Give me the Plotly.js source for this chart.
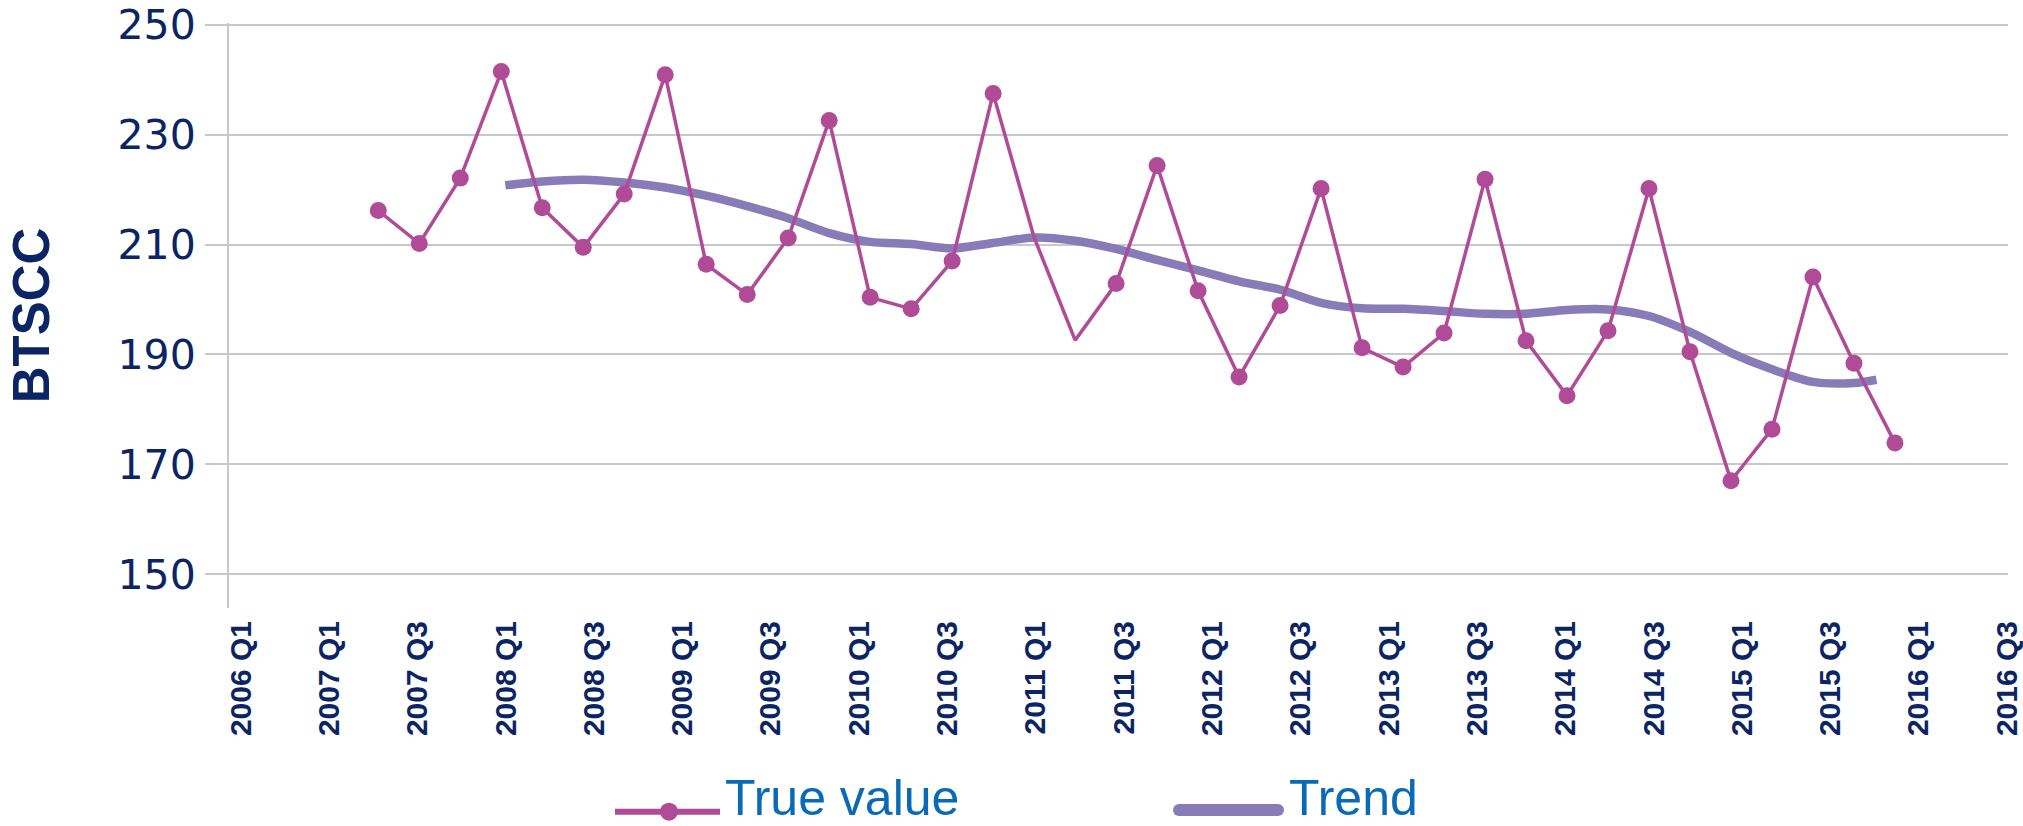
<!DOCTYPE html>
<html>
<head>
<meta charset="utf-8">
<script src="https://cdn.plot.ly/plotly-3.0.1.min.js"></script>
<style>
  html, body { margin: 0; padding: 0; background: #ffffff; }
  #chart { width: 2023px; height: 826px; }
</style>
</head>
<body>
<div id="chart"></div>
<script>
// ---------------- data ----------------
const tickLabels = ['2006 Q1','2007 Q1','2007 Q3','2008 Q1','2008 Q3','2009 Q1','2009 Q3',
  '2010 Q1','2010 Q3','2011 Q1','2011 Q3','2012 Q1','2012 Q3','2013 Q1','2013 Q3',
  '2014 Q1','2014 Q3','2015 Q1','2015 Q3','2016 Q1','2016 Q3'];

const quarters = ['2007 Q2','2007 Q3','2007 Q4',
  '2008 Q1','2008 Q2','2008 Q3','2008 Q4',
  '2009 Q1','2009 Q2','2009 Q3','2009 Q4',
  '2010 Q1','2010 Q2','2010 Q3','2010 Q4',
  '2011 Q1','2011 Q2','2011 Q3','2011 Q4',
  '2012 Q1','2012 Q2','2012 Q3','2012 Q4',
  '2013 Q1','2013 Q2','2013 Q3','2013 Q4',
  '2014 Q1','2014 Q2','2014 Q3','2014 Q4',
  '2015 Q1','2015 Q2','2015 Q3','2015 Q4',
  '2016 Q1','2016 Q2','2016 Q3'];

const trueValues = [216.2, 210.2, 222.1, 241.5, 216.7, 209.5, 219.2, 240.9, 206.4, 200.9,
  211.2, 232.6, 200.4, 198.3, 207.0, 237.5, 211.3, 192.6, 202.9, 224.4,
  201.6, 185.9, 198.9, 220.2, 191.2, 187.7, 193.9, 221.9, 192.5, 182.5,
  194.3, 220.2, 190.5, 167.0, 176.4, 204.1, 188.4, 173.9];

// trend positions in quarter steps from the first quarter (2007 Q2 = 0)
const trendPos = [3.1, 4, 5, 6, 7, 8, 9, 10, 11, 12, 13, 14, 15, 16, 17, 18, 19, 20,
  21, 22, 23, 24, 25, 26, 27, 28, 29, 30, 31, 32, 33, 34, 35, 36, 36.55];
const trendValues = [220.8, 221.5, 221.8, 221.3, 220.4, 218.9, 217.0, 214.8, 212.1, 210.5,
  210.1, 209.3, 210.3, 211.3, 210.7, 209.2, 207.2, 205.3, 203.3, 201.8,
  199.4, 198.4, 198.3, 197.9, 197.4, 197.4, 198.1, 198.2, 197.0, 194.1,
  190.3, 187.3, 185.0, 184.8, 185.4];

const yTicks = [150, 170, 190, 210, 230, 250];

// ---------------- style ----------------
const W = 2023, H = 826;
const M = { l: 229, r: 15, t: 23, b: 218 };
const plotW = W - M.l - M.r, plotH = H - M.t - M.b;
const COL_TRUE = '#b04b97';
const COL_TREND = '#877cb8';
const COL_GRID = '#c8c8c8';
const COL_NAVY = '#0b2564';
const COL_LEG = '#0a6ab6';
const noMarkerIdx = [16, 17];

// x axis in quarter steps; the printed labels of the source sit on their own,
// slightly wider spacing (label 0 starts at -3.35 steps, one label every 2.154 steps)
const X_RANGE = [-3.642, 39.758];
const LABEL_START = -3.351, LABEL_STEP = 2.1542;

const px = x => (x - M.l) / plotW;
const py = y => (H - M.b - y) / plotH;

const traces = [
  {
    type: 'scatter', mode: 'lines', name: 'Trend',
    x: trendPos, y: trendValues,
    line: { color: COL_TREND, width: 8.5, shape: 'spline', smoothing: 0.8 },
    hoverinfo: 'y'
  },
  {
    type: 'scatter', mode: 'lines+markers', name: 'True value',
    x: quarters.map((q, i) => i), y: trueValues, text: quarters,
    line: { color: COL_TRUE, width: 3.5 },
    marker: { color: COL_TRUE, opacity: 1, line: { width: 0 },
      size: quarters.map((q, i) => noMarkerIdx.includes(i) ? 0 : 17) },
    hovertemplate: '%{text}: %{y}<extra></extra>'
  }
];

const shapes = [
  { type: 'line', xref: 'paper', yref: 'paper', x0: px(615), x1: px(720), y0: py(811.7), y1: py(811.7),
    line: { color: COL_TRUE, width: 6 } },
  { type: 'circle', xref: 'paper', yref: 'paper', x0: px(660), x1: px(678), y0: py(820.7), y1: py(802.7),
    fillcolor: COL_TRUE, line: { width: 0 } },
  { type: 'line', xref: 'paper', yref: 'paper', x0: px(1179), x1: px(1278), y0: py(810), y1: py(810),
    line: { color: COL_TREND, width: 12 } },
  { type: 'circle', xref: 'paper', yref: 'paper', x0: px(1173), x1: px(1185), y0: py(816), y1: py(804),
    fillcolor: COL_TREND, line: { width: 0 } },
  { type: 'circle', xref: 'paper', yref: 'paper', x0: px(1272), x1: px(1284), y0: py(816), y1: py(804),
    fillcolor: COL_TREND, line: { width: 0 } }
];

const legFont = { family: 'Liberation Sans, Arial, sans-serif', size: 50, color: COL_LEG };
const annotations = [
  { text: 'True value', xref: 'paper', yref: 'paper', x: px(723), y: py(797.5),
    xanchor: 'left', yanchor: 'middle', showarrow: false, font: legFont },
  { text: 'Trend', xref: 'paper', yref: 'paper', x: px(1287), y: py(797.5),
    xanchor: 'left', yanchor: 'middle', showarrow: false, font: legFont }
];

const layout = {
  width: W, height: H,
  margin: M,
  paper_bgcolor: '#ffffff', plot_bgcolor: '#ffffff',
  showlegend: false,
  xaxis: {
    type: 'linear',
    range: X_RANGE,
    tickmode: 'array',
    tickvals: tickLabels.map((t, i) => LABEL_START + LABEL_STEP * i),
    ticktext: tickLabels,
    tickangle: -90, ticks: '', ticklabelstandoff: 6,
    showgrid: false, zeroline: false, showline: false,
    ticklabeloverflow: 'allow',
    tickfont: { family: 'Liberation Sans, Arial, sans-serif', size: 30, color: COL_NAVY, weight: 'bold' },
    fixedrange: true
  },
  yaxis: {
    range: [143.84, 250.34],
    tickmode: 'array', tickvals: yTicks,
    showgrid: true, gridcolor: COL_GRID, gridwidth: 2,
    showline: true, linecolor: COL_GRID, linewidth: 2,
    ticks: 'outside', ticklen: 22, tickcolor: COL_GRID, tickwidth: 2,
    ticklabelstandoff: 1,
    ticklabeloverflow: 'allow',
    zeroline: false,
    tickfont: { family: 'DejaVu Sans, Liberation Sans, sans-serif', size: 41, color: COL_NAVY },
    title: { text: 'BTSCC', standoff: 52,
      font: { family: 'Liberation Sans, Arial, sans-serif', size: 51, color: COL_NAVY, weight: 'bold' } },
    fixedrange: true
  },
  shapes: shapes,
  annotations: annotations
};

Plotly.newPlot('chart', traces, layout, { displayModeBar: false });
</script>
</body>
</html>
